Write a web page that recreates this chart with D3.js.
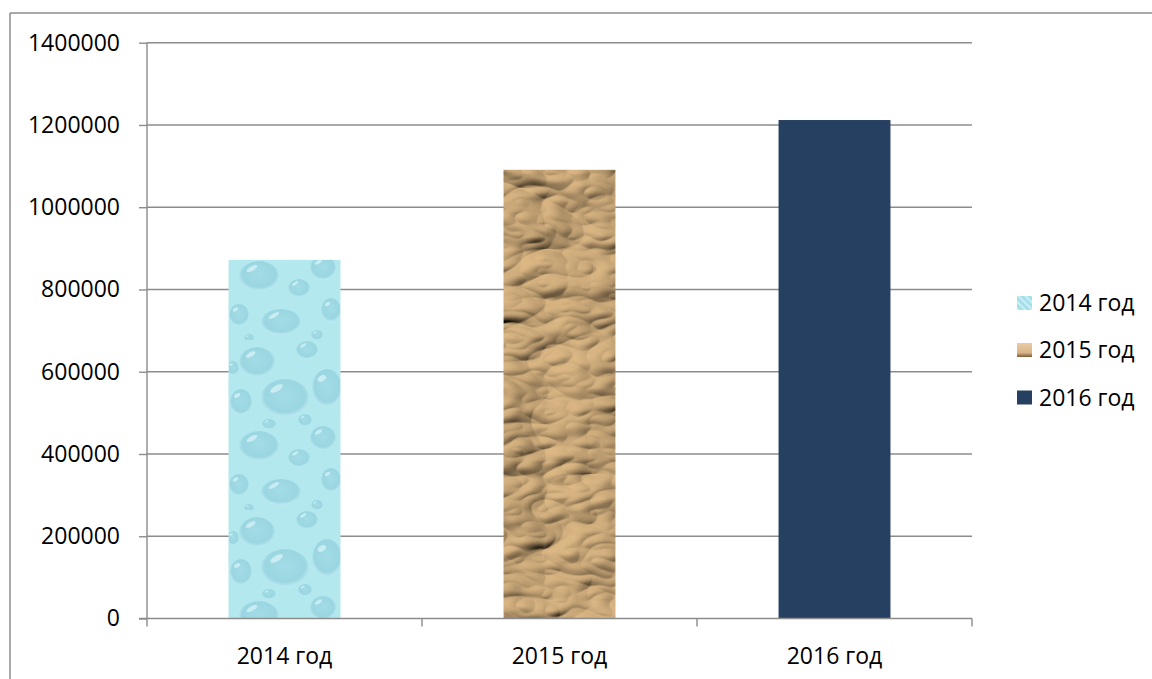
<!DOCTYPE html>
<html><head><meta charset="utf-8">
<script src="https://cdn.jsdelivr.net/npm/d3@7"></script>
<style>
html,body{margin:0;padding:0;background:#fff;}
svg{display:block;}
text{font-family:"Open Sans","Noto Sans",sans-serif;fill:#000;}
</style></head>
<body>
<svg id="chart" width="1152" height="679"></svg>
<script>
// ---- data ----
const categories = ["2014 год", "2015 год", "2016 год"];
const values = [872000, 1091000, 1212000];
const yTicks = [0, 200000, 400000, 600000, 800000, 1000000, 1200000, 1400000];
const legendLabels = ["2014 год", "2015 год", "2016 год"];

(function(){
const svg = d3.select("#chart");
const W = 1152, H = 679;
const pLeft = 147, pRight = 972, pTop = 42.7, pBottom = 618.5;
const FS = 23;

// ---- textures ----
const defs = svg.append("defs");
// water drops
const rg = defs.append("radialGradient").attr("id","drop").attr("cx","50%").attr("cy","45%").attr("r","60%");
rg.append("stop").attr("offset","0%").attr("stop-color","#a3dce6");
rg.append("stop").attr("offset","70%").attr("stop-color","#9ad6e1");
rg.append("stop").attr("offset","100%").attr("stop-color","#cdf2f7");
const wp = defs.append("pattern").attr("id","water").attr("patternUnits","userSpaceOnUse")
  .attr("width",112).attr("height",170).attr("x",229).attr("y",0);
wp.append("rect").attr("width",112).attr("height",170).attr("fill","#b4e8ef");
const bubbles = [[28,22,18,15],[78,10,11,9],[98,48,15,19],[12,62,11,13],[56,58,24,19],[94,98,13,12],[30,106,20,15],[70,118,11,9],[10,145,10,11],[52,152,20,13],[102,140,10,12],[76,80,7,6],[4,28,6,7],[40,84,7,5],[88,165,6,5],[20,168,5,4]];
bubbles.forEach(b=>{
  wp.append("ellipse").attr("cx",b[0]).attr("cy",b[1]).attr("rx",b[2]).attr("ry",b[3]).attr("fill","url(#drop)");
  wp.append("ellipse").attr("cx",b[0]-b[2]*0.35).attr("cy",b[1]-b[3]*0.5).attr("rx",b[2]*0.3).attr("ry",b[3]*0.15)
    .attr("transform",`rotate(-30 ${b[0]-b[2]*0.35} ${b[1]-b[3]*0.5})`)
    .attr("fill","#e6fafc").attr("opacity",0.6);
});
// crumpled paper
const f = defs.append("filter").attr("id","paper").attr("x",0).attr("y",0).attr("width","100%").attr("height","100%");
f.append("feTurbulence").attr("type","turbulence").attr("baseFrequency","0.011 0.02").attr("numOctaves",3).attr("seed",11).attr("result","t");
const dl = f.append("feDiffuseLighting").attr("in","t").attr("surfaceScale",11).attr("lighting-color","#dcb784").attr("result","l");
dl.append("feDistantLight").attr("azimuth",225).attr("elevation",50);
f.append("feComposite").attr("in","l").attr("in2","SourceGraphic").attr("operator","in");

// legend swatch fills
const lg1 = defs.append("pattern").attr("id","lg1").attr("patternUnits","userSpaceOnUse").attr("width",5).attr("height",5).attr("patternTransform","rotate(-45)");
lg1.append("rect").attr("width",5).attr("height",5).attr("fill","#a5dfe9");
lg1.append("rect").attr("width",1.5).attr("height",5).attr("fill","#d3f3f7");
const lg2 = defs.append("linearGradient").attr("id","lg2").attr("x1",0).attr("y1",0).attr("x2",0).attr("y2",1);
lg2.append("stop").attr("offset","0%").attr("stop-color","#e9cba6");
lg2.append("stop").attr("offset","70%").attr("stop-color","#d9b487");
lg2.append("stop").attr("offset","100%").attr("stop-color","#7b5a36");

// ---- frame ----
svg.append("line").attr("x1",10).attr("y1",13).attr("x2",W).attr("y2",13).attr("stroke","#8c8c8c").attr("stroke-width",1.5);
svg.append("line").attr("x1",10).attr("y1",13).attr("x2",10).attr("y2",H).attr("stroke","#8c8c8c").attr("stroke-width",1.5);

// ---- scales ----
const x = d3.scaleBand().domain(categories).range([pLeft,pRight]).paddingInner(0.593).paddingOuter(0.2965);
const y = d3.scaleLinear().domain([0,1400000]).range([pBottom,pTop]);

// gridlines
svg.append("g").selectAll("line").data(yTicks.filter(d=>d>0)).join("line")
  .attr("x1",pLeft).attr("x2",pRight).attr("y1",d=>y(d)).attr("y2",d=>y(d))
  .attr("stroke","#8c8c8c").attr("stroke-width",1.4);

// bars
const fills = ["url(#water)", "#c9a877", "#264061"];
svg.append("g").selectAll("rect").data(values).join("rect")
  .attr("x",(d,i)=>x(categories[i])).attr("width",x.bandwidth())
  .attr("y",d=>y(d)).attr("height",d=>y(0)-y(d))
  .attr("fill",(d,i)=>fills[i])
  .attr("filter",(d,i)=>i===1?"url(#paper)":null);

// y axis
const yAxis = d3.axisLeft(y).tickValues(yTicks).tickSize(8).tickPadding(19).tickFormat(d3.format("d"));
const gy = svg.append("g").attr("transform",`translate(${pLeft},0)`).call(yAxis);
gy.select(".domain").attr("stroke","#8c8c8c").attr("stroke-width",1.4).attr("d",`M0,${y(1400000)}V${y(0)}`);
gy.selectAll(".tick line").attr("stroke","#8c8c8c").attr("stroke-width",1.4);
gy.selectAll(".tick text").attr("font-size",FS).attr("font-family","'Open Sans',sans-serif").attr("fill","#000");

// x axis
const bounds = [pLeft].concat(categories.map(c=>x(c)+x.bandwidth()/2+x.step()/2));
const xg = svg.append("g");
xg.append("line").attr("x1",pLeft-8).attr("x2",pRight).attr("y1",y(0)).attr("y2",y(0)).attr("stroke","#8c8c8c").attr("stroke-width",1.4);
xg.selectAll("line.t").data(bounds).join("line").attr("class","t")
  .attr("x1",d=>d).attr("x2",d=>d).attr("y1",y(0)).attr("y2",y(0)+8).attr("stroke","#8c8c8c").attr("stroke-width",1.4);
xg.selectAll("text").data(categories).join("text")
  .attr("x",d=>x(d)+x.bandwidth()/2).attr("y",y(0)+45).attr("text-anchor","middle").attr("font-size",FS).text(d=>d);

// legend
const legY = [303, 350, 397.5];
const swFill = ["url(#lg1)","url(#lg2)","#264061"];
const lg = svg.append("g");
legendLabels.forEach((t,i)=>{
  lg.append("rect").attr("x",1017).attr("y",legY[i]-7).attr("width",15).attr("height",14).attr("fill",swFill[i]);
  lg.append("text").attr("x",1039).attr("y",legY[i]).attr("dy","0.36em").attr("font-size",FS).text(t);
});
})();
</script>
</body></html>
